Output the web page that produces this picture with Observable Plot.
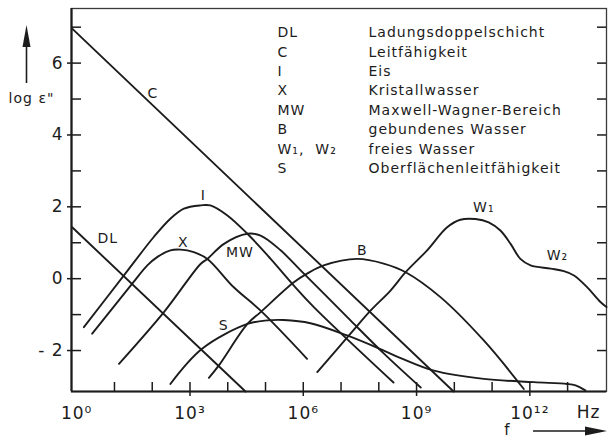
<!DOCTYPE html>
<html><head><meta charset="utf-8">
<script src="https://cdn.jsdelivr.net/npm/d3@7"></script>
<script src="https://cdn.jsdelivr.net/npm/@observablehq/plot@0.6"></script>
<style>
html,body{margin:0;padding:0;background:#fff;}
#chart svg{display:block;}
</style></head><body><div id="chart"></div>
<script>
// x = log10(f / Hz), y = log10 ε''
const DL_pts = [[-0.12, 1.43], [4.47, -3.14]];
const C_pts  = [[-0.12, 6.96], [9.98, -3.14]];
const I_pts  = [[0.19,-1.35],[1.25,0.09],[2.04,1.16],[2.48,1.67],[2.84,1.95],[3.28,2.04],[3.54,2.04],[3.99,1.76],[4.52,1.25],[5.13,0.56],[5.75,-0.19],[6.28,-0.79],[8.39,-2.89]];
const X_pts  = [[0.41,-1.53],[1.47,-0.14],[1.87,0.37],[2.13,0.60],[2.48,0.79],[2.75,0.81],[3.10,0.74],[3.46,0.55],[4.16,-0.24],[4.87,-0.89],[6.10,-2.23]];
const MW_pts = [[1.12,-2.37],[2.31,-0.93],[3.28,0.41],[3.46,0.55],[3.90,0.97],[4.52,1.25],[4.87,1.20],[5.40,0.79],[5.93,0.23],[6.54,-0.41],[7.25,-1.16],[8.13,-2.08],[9.11,-3.03]];
const B_pts  = [[3.50,-2.76],[3.76,-2.42],[4.52,-1.26],[4.87,-0.93],[5.75,-0.10],[6.10,0.14],[6.54,0.37],[7.43,0.55],[8.13,0.42],[8.71,0.18],[9.64,-0.52],[10.78,-1.72],[11.84,-3.07]];
const S_pts  = [[2.48,-2.93],[3.32,-1.95],[4.52,-1.26],[5.05,-1.16],[5.48,-1.15],[6.19,-1.24],[7.16,-1.58],[8.13,-2.00],[8.58,-2.21],[9.46,-2.56],[10.78,-2.79],[12.11,-2.88],[12.99,-2.93],[13.21,-2.97],[13.47,-3.11]];
const W_pts  = [[6.37,-2.60],[7.25,-1.53],[7.78,-0.89],[8.31,-0.33],[8.71,0.18],[9.28,0.79],[9.81,1.43],[10.16,1.64],[10.56,1.66],[10.91,1.57],[11.22,1.34],[11.49,0.97],[11.75,0.55],[12.02,0.37],[12.55,0.28],[12.90,0.21],[13.17,0.09],[13.52,-0.24],[13.87,-0.65],[14.03,-0.79]];

const seriesNames = ["DL","C","I","X","MW","B","S","W"];
const seriesPts = [DL_pts, C_pts, I_pts, X_pts, MW_pts, B_pts, S_pts, W_pts];

const curveLabels = ["C","DL","I","X","MW","B","S","W₁","W₂"];
const labelLogF   = [2.02, 0.82, 3.35, 2.82, 4.32, 7.56, 3.89, 10.78, 12.73];
const labelLogEps = [5.15, 1.13, 2.32, 1.02, 0.72, 0.79, -1.30, 1.99, 0.65];

const legendCodes = ["DL","C","I","X","MW","B","W₁,  W₂","S"];
const legendNames = ["Ladungsdoppelschicht","Leitfähigkeit","Eis","Kristallwasser","Maxwell-Wagner-Bereich","gebundenes Wasser","freies Wasser","Oberflächenleitfähigkeit"];

const xLabelTicks = [0, 3, 6, 9, 12];
const xMajor = [3, 6, 9, 12];
const xMinor = [1, 2, 4, 5, 7, 8, 10, 11, 13];
const yLabelTicks = [-2, 0, 2, 4, 6];
const yMinor = [-1, 1, 3, 5, 7];
const yAll = [-2, -1, 0, 1, 2, 3, 4, 5, 6, 7];

const xDomain = [-0.138, 14.03];
const yDomain = [-3.14, 7.52];

const table = seriesNames.flatMap((name, k) => seriesPts[k].map(([f, e]) => ({series: name, f, e})));

const W = 609, H = 441, mL = 71, mR = 3, mT = 8, mB = 50;
const innerW = W - mL - mR, innerH = H - mT - mB;
const ink = "#1c1c1c";
const sup = {"0":"⁰","1":"¹","2":"²","3":"³","6":"⁶","9":"⁹"};
const fmtX = d => "10" + String(d).split("").map(c => sup[c]).join("");
const fmtY = d => d < 0 ? "- " + Math.abs(d) : String(d);

const plot = Plot.plot({
  width: W, height: H,
  marginLeft: mL, marginRight: mR, marginTop: mT, marginBottom: mB,
  style: {fontFamily: "'DejaVu Sans', sans-serif", background: "white", color: ink, letterSpacing: "1px"},
  x: {domain: xDomain},
  y: {domain: yDomain},
  marks: [
    Plot.frame({stroke: "#3a3a3a", strokeWidth: 1.3}),
    Plot.ruleX([xDomain[0]], {stroke: ink, strokeWidth: 2.2}),
    Plot.ruleY([yDomain[0]], {stroke: ink, strokeWidth: 2.2}),
    Plot.tickX(xMinor, {x: d => d, insetTop: innerH - 9, stroke: ink, strokeWidth: 1.5}),
    Plot.tickX(xMajor, {x: d => d, insetTop: innerH - 9, insetBottom: -5, stroke: ink, strokeWidth: 1.5}),
    Plot.tickY(yMinor, {y: d => d, insetRight: innerW - 10, stroke: ink, strokeWidth: 1.5}),
    Plot.tickY(yLabelTicks, {y: d => d, insetRight: innerW - 10, insetLeft: -4, stroke: ink, strokeWidth: 1.5}),
    Plot.tickY(yAll, {y: d => d, insetLeft: innerW - 9, stroke: ink, strokeWidth: 1.5}),
    Plot.axisX({ticks: xLabelTicks, tickSize: 0, tickPadding: 15, tickFormat: fmtX, fontSize: 17, label: null}),
    Plot.axisY({ticks: yLabelTicks, tickSize: 0, tickPadding: 8, tickFormat: fmtY, fontSize: 17, label: null}),
    Plot.line(table, {x: "f", y: "e", z: "series", curve: "catmull-rom", stroke: ink, strokeWidth: 1.9}),
    Plot.text(curveLabels, {x: (d, i) => labelLogF[i], y: (d, i) => labelLogEps[i], text: d => d, fontSize: 14, fill: ink}),
    Plot.text([legendCodes.join("\n")], {frameAnchor: "top-left", dx: 206, dy: 15, lineAnchor: "top", textAnchor: "start", lineHeight: 1.386, fontSize: 14, fill: ink}),
    Plot.text([legendNames.join("\n")], {frameAnchor: "top-left", dx: 297, dy: 15, lineAnchor: "top", textAnchor: "start", lineHeight: 1.386, fontSize: 14, fill: ink}),
    Plot.text(["Hz"], {frameAnchor: "bottom-right", dx: -6, dy: 21, textAnchor: "end", lineAnchor: "middle", fontSize: 17, fill: ink}),
    Plot.text(["f"], {frameAnchor: "bottom-right", dx: -99, dy: 39, textAnchor: "middle", lineAnchor: "middle", fontSize: 15, fill: ink}),
    Plot.text(["log ε\""], {frameAnchor: "top-left", dx: -40, dy: 90, textAnchor: "middle", lineAnchor: "middle", fontSize: 14, fill: ink})
  ]
});
document.getElementById("chart").appendChild(plot);

// axis direction arrows (decoration)
const svg = d3.select(plot);
const g = svg.append("g").attr("aria-label", "axis arrows");
const ax = mL - 44.5, ayTop = mT + 17, ayBot = mT + 75;
g.append("line").attr("x1", ax).attr("x2", ax).attr("y1", ayBot).attr("y2", ayTop + 18).attr("stroke", ink).attr("stroke-width", 1.6);
g.append("path").attr("d", `M${ax},${ayTop} L${ax - 4},${ayTop + 22} L${ax + 4},${ayTop + 22} Z`).attr("fill", ink);
const fy = H - 10, fx1 = W - 76, fx2 = W - 2;
g.append("line").attr("x1", fx1).attr("x2", fx2 - 18).attr("y1", fy).attr("y2", fy).attr("stroke", ink).attr("stroke-width", 1.6);
g.append("path").attr("d", `M${fx2},${fy} L${fx2 - 22},${fy - 4.5} L${fx2 - 22},${fy + 4.5} Z`).attr("fill", ink);
</script></body></html>
